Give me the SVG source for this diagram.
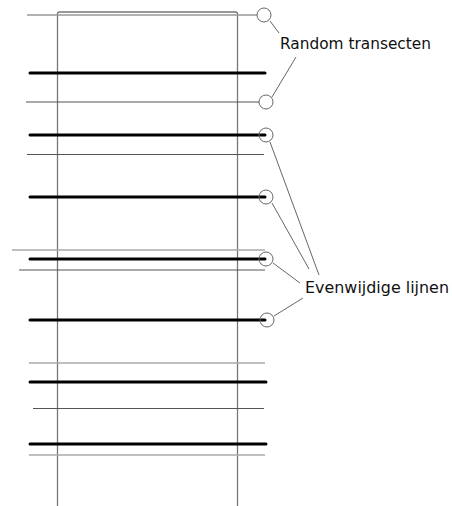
<svg xmlns="http://www.w3.org/2000/svg" width="452" height="506" viewBox="0 0 452 506">
<style>
.thick{stroke:#000;stroke-width:3;stroke-linecap:round}
.thin{stroke:#555;stroke-width:1}
.rand{stroke:#999;stroke-width:1.3}
.light{stroke:#aaa;stroke-width:1.6}
.frame{fill:none;stroke:#777;stroke-width:1.3}
.mark{fill:none;stroke:#666;stroke-width:1}
.lead{stroke:#666;stroke-width:1}
.lbl{font-family:"DejaVu Sans",sans-serif;font-size:15px;fill:#111}
</style>
<rect width="452" height="506" fill="#fff"/>
<g id="plot">
<path class="frame" d="M57.5,520 V14 Q57.5,12 59.5,12 H235.5 Q237.5,12 237.5,14 V520"/>
</g>
<g id="lines">
<line class="rand" x1="27" y1="15" x2="257" y2="15"/>
<line class="thick" x1="30" y1="73" x2="265" y2="73"/>
<line class="thin" x1="26" y1="102" x2="259" y2="102"/>
<line class="thick" x1="30" y1="135" x2="265" y2="135"/>
<line class="thin" x1="27" y1="154.5" x2="264" y2="154.5"/>
<line class="thick" x1="30" y1="197" x2="265" y2="197"/>
<line class="light" x1="12" y1="250" x2="265" y2="250"/>
<line class="thick" x1="30" y1="259" x2="265" y2="259"/>
<line class="thin" x1="19" y1="270" x2="265" y2="270"/>
<line class="thick" x1="30" y1="320" x2="265" y2="320"/>
<line class="light" x1="29" y1="363" x2="265" y2="363"/>
<line class="thick" x1="30" y1="382" x2="266" y2="382"/>
<line class="thin" x1="33" y1="408.5" x2="264" y2="408.5"/>
<line class="thick" x1="30" y1="444" x2="266" y2="444"/>
<line class="light" x1="29" y1="455" x2="265" y2="455"/>
</g>
<g id="markers">
<circle class="mark" cx="264" cy="15" r="7"/>
<circle class="mark" cx="266" cy="102" r="7"/>
<circle class="mark" cx="266" cy="135" r="7"/>
<circle class="mark" cx="266" cy="197" r="7"/>
<circle class="mark" cx="266" cy="259" r="7"/>
<circle class="mark" cx="267" cy="320" r="7"/>
</g>
<g id="connectors">
<line class="lead" x1="270" y1="21" x2="279" y2="33"/>
<line class="lead" x1="272" y1="97" x2="296" y2="57"/>
<line class="lead" x1="270" y1="142" x2="319" y2="275"/>
<line class="lead" x1="272" y1="203" x2="309" y2="269"/>
<line class="lead" x1="273" y1="263" x2="300" y2="283"/>
<line class="lead" x1="274" y1="316" x2="303" y2="298"/>
</g>
<g id="label-random">
<text class="lbl" x="280" y="49" textLength="151" lengthAdjust="spacingAndGlyphs">Random transecten</text>
</g>
<g id="label-parallel">
<text class="lbl" x="305" y="293" textLength="144" lengthAdjust="spacingAndGlyphs">Evenwijdige lijnen</text>
</g>
</svg>
